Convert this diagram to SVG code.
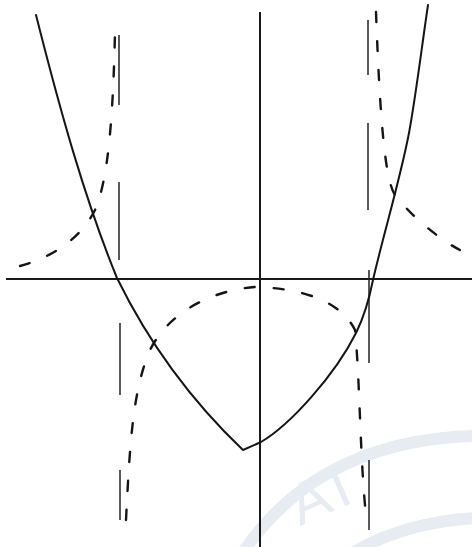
<svg xmlns="http://www.w3.org/2000/svg" width="472" height="547" viewBox="0 0 472 547">
<style>
.axis{stroke:#1a1a1a;stroke-width:2;fill:none}
.curve{stroke:#151515;stroke-width:2;fill:none;stroke-linecap:round;stroke-linejoin:round}
.dash{stroke:#151515;stroke-width:2.4;fill:none;stroke-dasharray:10 19;stroke-linecap:round}
.asym{stroke:#222;stroke-width:1.5;fill:none}
.wm{stroke:#e7ebf2;stroke-width:12;fill:none}
.wmt{fill:#e7ebf2;font-family:'Liberation Sans',Arial,sans-serif;font-size:58px}
</style>
<rect width="472" height="547" fill="#fff"/>
<g id="watermark">
<path class="wm" d="M243,552 Q320,440 476,436"/>
<path class="wm" d="M352,553 Q405,522 476,518"/>
<text class="wmt" transform="translate(300,526) rotate(-24)">AT</text>
</g>
<g id="axes">
<line class="axis" x1="6" y1="279" x2="472" y2="279"/>
<line class="axis" x1="260" y1="12" x2="260" y2="547"/>
</g>
<g id="asymptotes">
<line class="asym" x1="119" y1="35" x2="119" y2="105"/>
<line class="asym" x1="119" y1="182" x2="119" y2="260"/>
<line class="asym" x1="120" y1="323" x2="120" y2="395"/>
<line class="asym" x1="120" y1="470" x2="120" y2="520"/>
<line class="asym" x1="368" y1="20" x2="368" y2="75"/>
<line class="asym" x1="368" y1="123" x2="368" y2="210"/>
<line class="asym" x1="369" y1="270" x2="369" y2="363"/>
<line class="asym" x1="369" y1="460" x2="369" y2="530"/>
</g>
<g id="solid-curve">
<path class="curve" d="M36,15 C60,110 85,200 117,278 C140,325 180,390 243,450 L261,442 C290,425 335,375 356,333 C366,313 370,295 373,280 C382,240 400,180 409,133 C416,95 422,45 428,5"/>
</g>
<g id="dashed-curve">
<path class="dash" d="M20,266 C50,258 80,240 95,210 C108,180 113,120 115,32"/>
<path class="dash" d="M126,520 C130,440 133,390 150,350 C170,310 215,290 255,287 C300,288 340,300 355,330 C360,380 360,460 366,515"/>
<path class="dash" d="M376,12 C380,120 385,180 395,195 C410,215 440,240 460,250"/>
</g>
</svg>
